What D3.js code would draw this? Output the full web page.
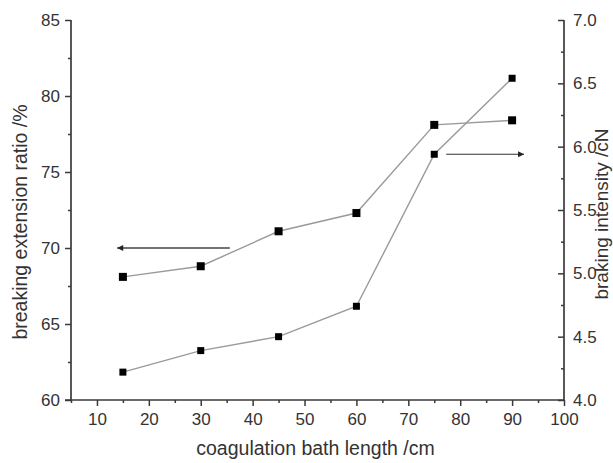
<!DOCTYPE html>
<html>
<head>
<meta charset="utf-8">
<script src="https://cdn.jsdelivr.net/npm/d3@7/dist/d3.min.js"></script>
<style>
  html, body { margin: 0; padding: 0; background: #fff; }
  svg { display: block; }
  text { font-family: "Liberation Sans", Arial, sans-serif; fill: #333; }
</style>
</head>
<body>
<svg id="chart" width="613" height="463"></svg>
<script>
// ---- data ----
const lengths = [15, 30, 45, 60, 75, 90];
const extensionRatio = [68.1, 68.8, 71.1, 72.3, 78.1, 78.4];
const intensity = [4.22, 4.39, 4.50, 4.74, 5.94, 6.54];
const xTicks = [10, 20, 30, 40, 50, 60, 70, 80, 90, 100];
const leftTicks = [60, 65, 70, 75, 80, 85];
const rightTicks = [4.0, 4.5, 5.0, 5.5, 6.0, 6.5, 7.0];
const xTitle = "coagulation bath length /cm";
const leftTitle = "breaking extension ratio /%";
const rightTitle = "braking intensity /cN";

// ---- layout ----
const L = 71, R = 564, T = 20, B = 400;
const svg = d3.select("#chart");
const axisColor = "#3a3a3a";

const x = d3.scaleLinear().domain([5, 100]).range([L, R]);
const yL = d3.scaleLinear().domain([60, 85]).range([B, T]);
const yR = d3.scaleLinear().domain([4, 7]).range([B, T]);

function styleAxis(g) {
  g.select(".domain").remove();
  g.selectAll(".tick line").attr("stroke", axisColor).attr("stroke-width", 1.5);
  g.selectAll(".tick text").style("font-size", "17px").attr("fill", "#333");
}

// x axis
const xMinor = d3.range(5, 100, 10);
svg.append("g").attr("transform", `translate(0,${B})`)
  .call(d3.axisBottom(x).tickValues(xMinor).tickSize(3).tickFormat(""))
  .call(styleAxis);
const gx = svg.append("g").attr("transform", `translate(0,${B})`)
  .call(d3.axisBottom(x).tickValues(xTicks).tickSize(6).tickPadding(7).tickFormat(d3.format("d")))
  .call(styleAxis);
gx.selectAll(".tick text").attr("dy", "0.71em");

// left axis
const lMinor = d3.range(62.5, 85, 5);
svg.append("g").attr("transform", `translate(${L},0)`)
  .call(d3.axisLeft(yL).tickValues(lMinor).tickSize(3).tickFormat(""))
  .call(styleAxis);
svg.append("g").attr("transform", `translate(${L},0)`)
  .call(d3.axisLeft(yL).tickValues(leftTicks).tickSize(6).tickPadding(5).tickFormat(d3.format("d")))
  .call(styleAxis);

// right axis (ticks inward)
const rMinor = d3.range(4.25, 7, 0.5);
svg.append("g").attr("transform", `translate(${R},0)`)
  .call(d3.axisLeft(yR).tickValues(rMinor).tickSize(3).tickFormat(""))
  .call(styleAxis);
const gr = svg.append("g").attr("transform", `translate(${R},0)`)
  .call(d3.axisLeft(yR).tickValues(rightTicks).tickSize(6).tickFormat(d3.format(".1f")))
  .call(styleAxis);
gr.selectAll(".tick text").attr("x", 9).attr("text-anchor", "start");

// axis lines
svg.append("line").attr("x1", L).attr("x2", L).attr("y1", T).attr("y2", B)
  .attr("stroke", axisColor).attr("stroke-width", 1.7);
svg.append("line").attr("x1", R).attr("x2", R).attr("y1", T).attr("y2", B)
  .attr("stroke", axisColor).attr("stroke-width", 1.7);
svg.append("line").attr("x1", L - 6).attr("x2", R).attr("y1", B).attr("y2", B)
  .attr("stroke", axisColor).attr("stroke-width", 1.7);

// titles
svg.append("text").attr("x", (L + R) / 2 - 2).attr("y", 455)
  .attr("text-anchor", "middle").style("font-size", "19.5px").text(xTitle);
svg.append("text").attr("transform", `translate(27,222) rotate(-90)`)
  .attr("text-anchor", "middle").style("font-size", "19.5px").text(leftTitle);
svg.append("text").attr("transform", `translate(608,214) rotate(-90)`)
  .attr("text-anchor", "middle").style("font-size", "19px").text(rightTitle);

// series
const line = (yScale, vals) => d3.line()
  .x((d, i) => x(lengths[i]))
  .y(d => yScale(d))(vals);

svg.append("path").attr("d", line(yL, extensionRatio))
  .attr("fill", "none").attr("stroke", "#9a9a9a").attr("stroke-width", 1.4);
svg.append("path").attr("d", line(yR, intensity))
  .attr("fill", "none").attr("stroke", "#9a9a9a").attr("stroke-width", 1.4);

const s1 = 8, s2 = 7;
svg.selectAll(".m1").data(extensionRatio).enter().append("rect")
  .attr("x", (d, i) => x(lengths[i]) - s1 / 2).attr("y", d => yL(d) - s1 / 2)
  .attr("width", s1).attr("height", s1).attr("fill", "#000");
svg.selectAll(".m2").data(intensity).enter().append("rect")
  .attr("x", (d, i) => x(lengths[i]) - s2 / 2).attr("y", d => yR(d) - s2 / 2)
  .attr("width", s2).attr("height", s2).attr("fill", "#000");

// arrows (annotation, in data units)
const leftArrow = { from: 35.6, to: 13.9, value: 70 };
const rightArrow = { from: 77.3, to: 92.3, value: 5.94 };

svg.append("defs").append("marker")
  .attr("id", "ah").attr("viewBox", "0 0 10 10").attr("refX", 10).attr("refY", 5)
  .attr("markerUnits", "userSpaceOnUse").attr("markerWidth", 9).attr("markerHeight", 6)
  .attr("orient", "auto")
  .append("path").attr("d", "M0,0 L10,5 L0,10 z").attr("fill", "#222");

svg.append("line")
  .attr("x1", x(leftArrow.from)).attr("x2", x(leftArrow.to))
  .attr("y1", yL(leftArrow.value)).attr("y2", yL(leftArrow.value))
  .attr("stroke", "#444").attr("stroke-width", 1.6).attr("marker-end", "url(#ah)");
svg.append("line")
  .attr("x1", x(rightArrow.from)).attr("x2", x(rightArrow.to))
  .attr("y1", yR(rightArrow.value)).attr("y2", yR(rightArrow.value))
  .attr("stroke", "#333").attr("stroke-width", 1.2).attr("marker-end", "url(#ah)");
</script>
</body>
</html>
